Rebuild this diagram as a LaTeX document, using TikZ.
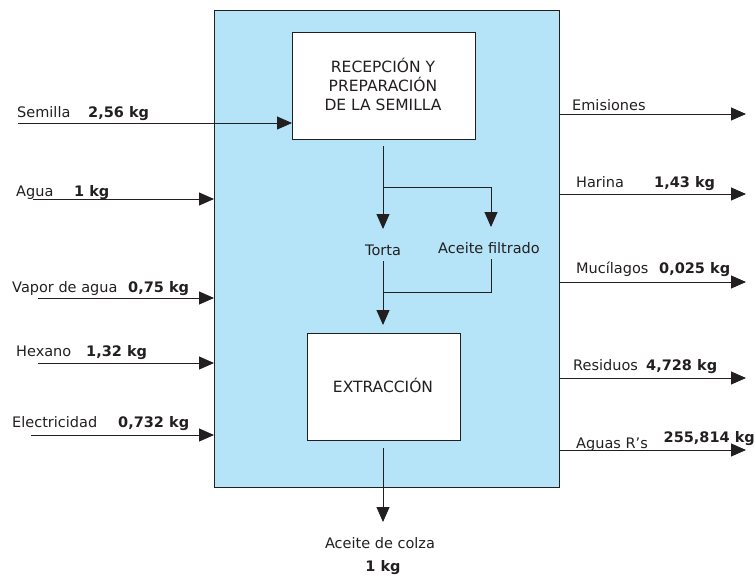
\documentclass[tikz,border=0pt]{standalone}
\usepackage{fontspec}
\setmainfont{DejaVu Sans}
\usetikzlibrary{arrows.meta}
\definecolor{ink}{HTML}{231F20}
\definecolor{bluefill}{HTML}{B5E3F8}
\tikzset{
  flow/.style={draw=ink, line width=0.9pt, -{Triangle[length=15pt,width=13pt]}},
  plain/.style={draw=ink, line width=0.9pt},
  lbl/.style={anchor=base west, inner sep=0pt, font=\fontsize{14.5}{16}\selectfont, text=ink},
  num/.style={anchor=base west, inner sep=0pt, font=\fontsize{14.5}{16}\selectfont\bfseries, text=ink},
  clbl/.style={anchor=base, inner sep=0pt, font=\fontsize{14.5}{16}\selectfont, text=ink},
  caps/.style={anchor=base, inner sep=0pt, font=\fontsize{15.5}{17}\selectfont, text=ink},
  procbox/.style={draw=ink, line width=0.8pt, fill=white},
}
\begin{document}
\begin{tikzpicture}[x=1pt,y=-1pt]
\useasboundingbox (0,0) rectangle (755,579);
% big process boundary
\draw[draw=ink, line width=0.8pt, fill=bluefill] (214,10) rectangle (559,487);
\node[procbox, minimum width=183pt, minimum height=107pt, anchor=north west] (rec) at (292,32) {};
\node[caps] at (383,72) {RECEPCIÓN Y};
\node[caps] at (383,91) {PREPARACIÓN};
\node[caps] at (383,110) {DE LA SEMILLA};
\node[procbox, minimum width=153pt, minimum height=107pt, anchor=north west] (ext) at (307,333) {};
\node[caps] at (383,392) {EXTRACCIÓN};

% coordinates
\coordinate (semS) at (18,123);
\coordinate (semE) at (292,123);
\coordinate (agS) at (33,199);
\coordinate (agE) at (214,199);
\coordinate (vaS) at (38,298);
\coordinate (vaE) at (214,298);
\coordinate (hxS) at (38,363);
\coordinate (hxE) at (214,363);
\coordinate (elS) at (31,435);
\coordinate (elE) at (214,435);

\coordinate (emS) at (559,114);
\coordinate (emE) at (746,114);
\coordinate (haS) at (559,194);
\coordinate (haE) at (746,194);
\coordinate (muS) at (559,282);
\coordinate (muE) at (746,282);
\coordinate (reS) at (559,378);
\coordinate (reE) at (746,378);
\coordinate (aqS) at (559,450);
\coordinate (aqE) at (746,450);

\coordinate (d0) at (383,146);
\coordinate (br) at (383,187);
\coordinate (brR) at (491,187);
\coordinate (tTip) at (383,229);
\coordinate (aTip) at (491,227);
\coordinate (t2) at (383,261);
\coordinate (a2) at (491,259);
\coordinate (j) at (383,292);
\coordinate (jR) at (491,292);
\coordinate (eTip) at (383,325);
\coordinate (b0) at (383,448);
\coordinate (bTip) at (383,522);

% inputs
\draw[flow] (semS) -- (semE);
\node[lbl] at (17,117) {Semilla};
\node[num] at (88,117) {2,56 kg};
\draw[flow] (agS) -- (agE);
\node[lbl] at (16,196) {Agua};
\node[num] at (74,196) {1 kg};
\draw[flow] (vaS) -- (vaE);
\node[lbl] at (12,292) {Vapor de agua};
\node[num] at (128,292) {0,75 kg};
\draw[flow] (hxS) -- (hxE);
\node[lbl] at (16,356) {Hexano};
\node[num] at (86,356) {1,32 kg};
\draw[flow] (elS) -- (elE);
\node[lbl] at (12,427) {Electricidad};
\node[num] at (118,427) {0,732 kg};

% outputs
\draw[flow] (emS) -- (emE);
\node[lbl] at (572,110) {Emisiones};
\draw[flow] (haS) -- (haE);
\node[lbl] at (576,187) {Harina};
\node[num] at (654,187) {1,43 kg};
\draw[flow] (muS) -- (muE);
\node[lbl] at (576,273) {Mucílagos};
\node[num] at (659,273) {0,025 kg};
\draw[flow] (reS) -- (reE);
\node[lbl] at (573,370) {Residuos};
\node[num] at (646,370) {4,728 kg};
\draw[flow] (aqS) -- (aqE);
\node[lbl] at (576,448) {Aguas R’s};
\node[num, anchor=base east] at (755,442) {255,814 kg};

% internal flows
\draw[flow] (d0) -- (tTip);
\draw[plain] (br) -- (brR);
\draw[flow] (brR) -- (aTip);
\node[clbl] at (383,255) {Torta};
\node[clbl] at (489,253) {Aceite filtrado};
\draw[flow] (t2) -- (eTip);
\draw[plain] (a2) -- (jR) -- (j);

% product
\draw[flow] (b0) -- (bTip);
\node[clbl] at (380,548) {Aceite de colza};
\node[clbl, font=\fontsize{14.5}{16}\selectfont\bfseries] at (383,571) {1 kg};
\end{tikzpicture}
\end{document}
